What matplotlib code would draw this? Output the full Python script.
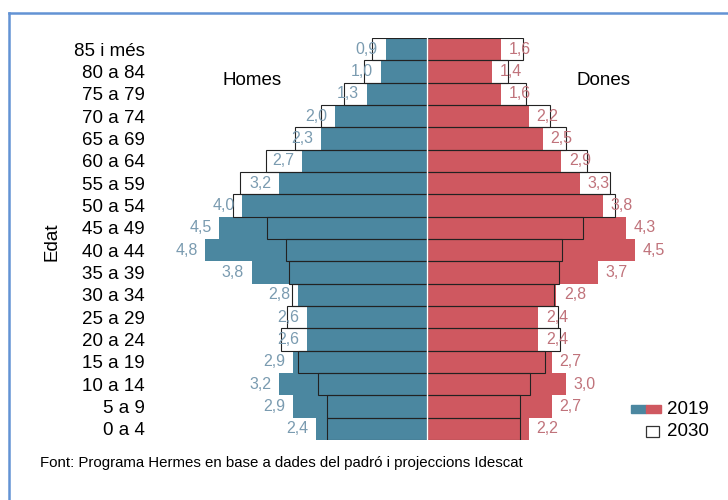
"""
Piramide de poblacio 2019 i projeccio 2030
"""

import matplotlib
matplotlib.use("Agg")
from matplotlib import pyplot as plt
from matplotlib.patches import Rectangle
from matplotlib.lines import Line2D
import numpy as np

plt.rcParams["font.family"] = ["Liberation Sans", "DejaVu Sans"]

AGES = ["0 a 4", "5 a 9", "10 a 14", "15 a 19", "20 a 24", "25 a 29",
        "30 a 34", "35 a 39", "40 a 44", "45 a 49", "50 a 54", "55 a 59",
        "60 a 64", "65 a 69", "70 a 74", "75 a 79", "80 a 84", "85 i més"]

MEN_2019 = [2.4, 2.9, 3.2, 2.9, 2.6, 2.6, 2.8, 3.8, 4.8, 4.5, 4.0, 3.2,
            2.7, 2.3, 2.0, 1.3, 1.0, 0.9]
WOMEN_2019 = [2.2, 2.7, 3.0, 2.7, 2.4, 2.4, 2.8, 3.7, 4.5, 4.3, 3.8, 3.3,
              2.9, 2.5, 2.2, 1.6, 1.4, 1.6]

# 2030 projection
MEN_2030 = [2.16, 2.16, 2.36, 2.79, 3.16, 3.03, 2.92, 3.0, 3.05, 3.46, 4.2,
            4.05, 3.48, 2.86, 2.3, 1.8, 1.37, 1.19]
WOMEN_2030 = [2.01, 2.01, 2.23, 2.55, 2.88, 2.84, 2.75, 2.86, 2.92, 3.38, 4.07,
              3.96, 3.46, 3.0, 2.66, 2.14, 1.75, 2.07]

TEAL = "#4b87a0"
RED = "#cf5860"
TEAL_TXT = "#7a9bb0"
RED_TXT = "#c0737b"

W, H = 728, 500


def fx(px):
    return px / W


def fy(py):
    return 1 - py / H


def main():
    fig = plt.figure(figsize=(7.28, 5.0), dpi=100)
    ax = fig.add_axes([fx(150), fy(440), fx(725) - fx(150), fy(38) - fy(440)])

    y = np.arange(len(AGES))
    men19 = -np.array(MEN_2019)
    wom19 = np.array(WOMEN_2019)
    men30 = -np.array(MEN_2030)
    wom30 = np.array(WOMEN_2030)

    # white backgrounds of 2030 bars
    ax.barh(y, men30, height=1.0, color="white", zorder=1)
    ax.barh(y, wom30, height=1.0, color="white", zorder=1)
    # 2019 filled bars
    ax.barh(y, men19, height=1.0, color=TEAL, zorder=2)
    ax.barh(y, wom19, height=1.0, color=RED, zorder=2)
    # 2030 outlines on top
    ax.barh(y, men30, height=1.0, facecolor="none", edgecolor="#222222",
            linewidth=0.8, zorder=3)
    ax.barh(y, wom30, height=1.0, facecolor="none", edgecolor="#222222",
            linewidth=0.8, zorder=3)
    ax.axvline(0, color="white", linewidth=1.0, zorder=4)

    off = 0.17
    for i in range(len(AGES)):
        ax.text(men19[i] - off, y[i], f"{MEN_2019[i]:.1f}".replace(".", ","),
                ha="right", va="center", fontsize=11.5, color=TEAL_TXT, zorder=5)
        ax.text(wom19[i] + off, y[i], f"{WOMEN_2019[i]:.1f}".replace(".", ","),
                ha="left", va="center", fontsize=11.5, color=RED_TXT, zorder=5)

    ax.set_xlim(-6.0, 6.45)
    ax.set_ylim(-0.5, len(AGES) - 0.5)
    ax.set_yticks(y)
    ax.set_yticklabels(AGES, fontsize=13.5)
    ax.set_xticks([])
    ax.tick_params(axis="y", length=0, pad=4)
    for s in ax.spines.values():
        s.set_visible(False)

    ax.text(-3.8, 15.6, "Homes", ha="center", va="center", fontsize=13.5)
    ax.text(3.81, 15.6, "Dones", ha="center", va="center", fontsize=13.5)

    fig.text(fx(52), fy(242), "Edat", rotation=90, ha="center", va="center",
             fontsize=13.5)

    # legend
    fig.add_artist(Rectangle((fx(631), fy(413)), fx(15), fy(405) - fy(413),
                             transform=fig.transFigure, color=TEAL))
    fig.add_artist(Rectangle((fx(646), fy(413)), fx(15), fy(405) - fy(413),
                             transform=fig.transFigure, color=RED))
    fig.text(fx(667), fy(409), "2019", ha="left", va="center", fontsize=13.5)
    fig.add_artist(Rectangle((fx(646), fy(437)), fx(13), fy(426) - fy(437),
                             transform=fig.transFigure, facecolor="white",
                             edgecolor="#333333", linewidth=0.9))
    fig.text(fx(667), fy(432), "2030", ha="left", va="center", fontsize=13.5)

    fig.text(fx(40), fy(463),
             "Font: Programa Hermes en base a dades del padró i projeccions Idescat",
             ha="left", va="center", fontsize=10.8)

    # blue frame
    fig.add_artist(Line2D([fx(9), fx(9)], [0, fy(12.5)], transform=fig.transFigure,
                          color="#6393d4", linewidth=1.8))
    fig.add_artist(Line2D([fx(9), 1], [fy(12.5), fy(12.5)], transform=fig.transFigure,
                          color="#6393d4", linewidth=1.8))

    fig.savefig("out.png", dpi=100)


if __name__ == "__main__":
    main()
